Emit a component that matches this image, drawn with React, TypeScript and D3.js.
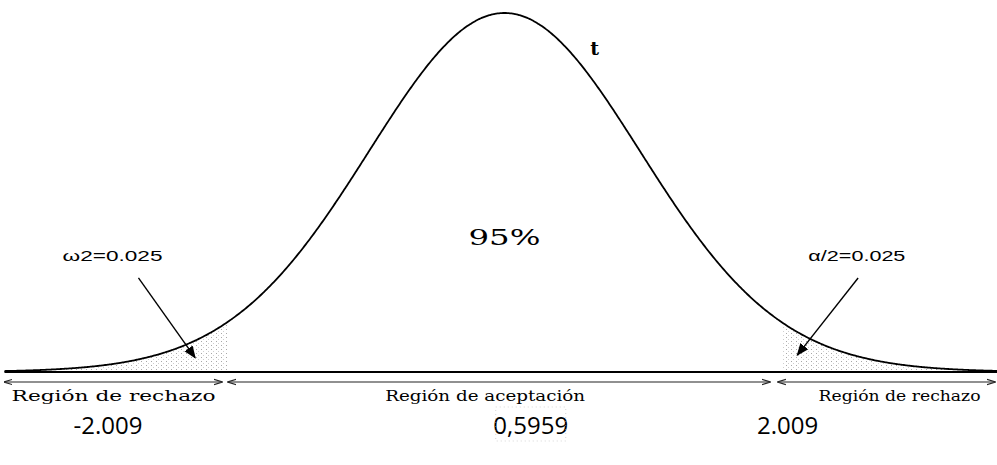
import React from 'react';
import * as d3 from 'd3';

// t distribution, df = 50, two-tailed test at 5%
const degreesOfFreedom = 50;
const criticalValues = [-2.009, 2.009];
const observedValue = 0.5959;
const tailAlpha = ['ω2=0.025', 'α/2=0.025'];
const centreLabel = '95%';
const curveLabel = 't';
const regionLabels = ['Región de rechazo', 'Región de aceptación', 'Región de rechazo'];
const regionCentres = [-2.83, -0.14, 2.86];
const regionSpans: [number, number][] = [[-3.62, -2.046], [-2.0, 1.92], [1.98, 3.55]];
const valueLabels = ['-2.009', '0,5959', '2.009'];
const valueLabelAt = [-2.87, 0.19, 2.05];
// pointer arrows: [from t, from height, to t, to height]
const pointers = [[-2.65, 0.262, -2.24, 0.04], [2.56, 0.262, 2.12, 0.047]];
const alphaLabelAt = [[-3.2, 0.31], [2.2, 0.31]];

const W = 997;
const H = 465;

const tDensity = (t: number) =>
  Math.pow(1 + (t * t) / degreesOfFreedom, -(degreesOfFreedom + 1) / 2);

const App = () => {
  const x = d3.scaleLinear().domain(criticalValues).range([227, 782]);
  const y = d3.scaleLinear().domain([0, 1]).range([372, 13]);
  const base = y(0);

  const steps = d3.range(-3.62, 3.62, 0.01);
  const line = d3.line<number>().x(d => x(d)).y(d => y(tDensity(d))).curve(d3.curveBasis);
  const area = d3.area<number>().x(d => x(d)).y0(base).y1(d => y(tDensity(d)));

  const leftTail = steps.filter(d => d <= criticalValues[0]).concat([criticalValues[0]]);
  const rightTail = [criticalValues[1]].concat(steps.filter(d => d >= criticalValues[1]));

  const serif = '"DejaVu Serif", "Liberation Serif", serif';

  return (
    <svg width={W} height={H} style={{ position: 'absolute', left: 0, top: 0, background: '#fff' }}>
      <defs>
        <pattern id="dots" width="5" height="4" patternUnits="userSpaceOnUse">
          <rect x="1" y="1" width="1" height="1" fill="#a8a8a8" />
          <rect x="3" y="3" width="1" height="1" fill="#cfcfcf" />
        </pattern>
        <marker id="head" viewBox="0 0 10 10" refX="9" refY="5" markerWidth="9" markerHeight="9" orient="auto-start-reverse">
          <path d="M0,1 L10,5 L0,9 Z" fill="#000" />
        </marker>
        <marker id="thin" viewBox="0 0 10 10" refX="9" refY="5" markerWidth="8" markerHeight="8" orient="auto-start-reverse">
          <path d="M0,2 L10,5 L0,8" fill="none" stroke="#222" strokeWidth="1.2" />
        </marker>
      </defs>

      <path d={area(leftTail) || ''} fill="url(#dots)" />
      <path d={area(rightTail) || ''} fill="url(#dots)" />

      <line x1={x(-3.62)} x2={W} y1={base} y2={base} stroke="#000" strokeWidth={2.2} />
      <path d={line(steps) || ''} fill="none" stroke="#000" strokeWidth={1.8} />

      <text x={x(0.62)} y={55} fontFamily={serif} fontWeight="bold" fontSize={19}>{curveLabel}</text>
      <text x={x(0)} y={245} textAnchor="middle" fontFamily={serif} fontSize={23} textLength={72}
        lengthAdjust="spacingAndGlyphs">{centreLabel}</text>

      {tailAlpha.map((t, i) => (
        <text key={t} x={x(alphaLabelAt[i][0])} y={y(alphaLabelAt[i][1])} fontFamily='"Liberation Sans", Arial, sans-serif'
          fontSize={14} textLength={i === 0 ? 100 : 97} lengthAdjust="spacingAndGlyphs">{t}</text>
      ))}

      {pointers.map((p, i) => (
        <line key={i} x1={x(p[0])} y1={y(p[1])} x2={x(p[2])} y2={y(p[3])} stroke="#000" strokeWidth={1.4} markerEnd="url(#head)" />
      ))}

      {regionSpans.map((s, i) => (
        <line key={i} x1={x(s[0])} x2={x(s[1])} y1={382} y2={382} stroke="#222" strokeWidth={1.1}
          markerStart="url(#thin)" markerEnd="url(#thin)" />
      ))}

      {regionLabels.map((r, i) => (
        <text key={i} x={x(regionCentres[i])} y={401} textAnchor="middle" fontFamily={serif} fontSize={14}
          textLength={i === 0 ? 204 : i === 1 ? 200 : 162} lengthAdjust="spacingAndGlyphs">{r}</text>
      ))}

      {valueLabels.map((v, i) => (
        <text key={v} x={x(valueLabelAt[i])} y={434} textAnchor="middle" fontFamily='"Open Sans", sans-serif' fontSize={24}>{v}</text>
      ))}
      <rect x={x(valueLabelAt[1]) - 35} y={407} width={70} height={34} fill="none" stroke="#bbb" strokeWidth={0.6} strokeDasharray="1 3" />
      <desc>{`observed t = ${observedValue}`}</desc>
    </svg>
  );
};

export default App;
